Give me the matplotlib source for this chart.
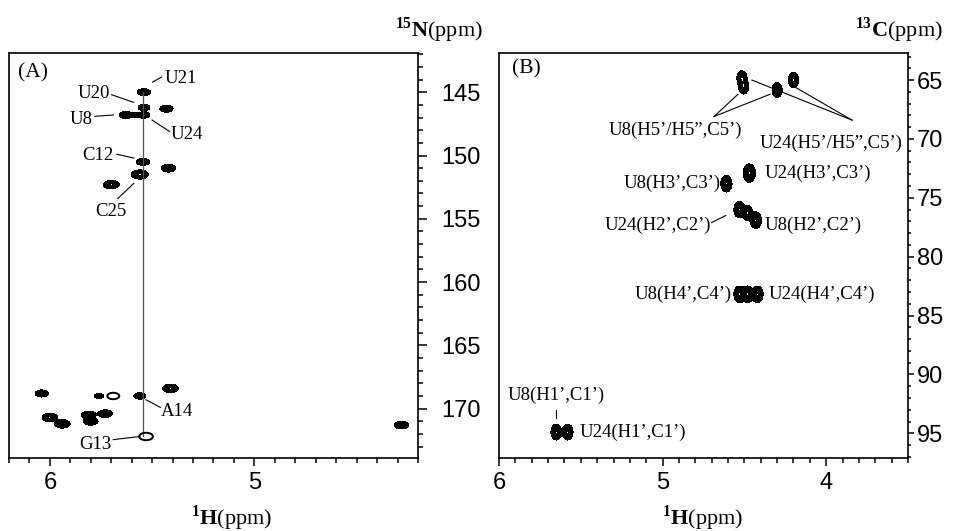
import numpy as np
import matplotlib.pyplot as plt
from matplotlib.ticker import MultipleLocator, FormatStrFormatter

plt.rcParams['font.family'] = 'Liberation Sans'
plt.rcParams['mathtext.fontset'] = 'custom'
plt.rcParams['mathtext.rm'] = 'Liberation Serif'
plt.rcParams['mathtext.bf'] = 'Liberation Serif:bold'

# panel A peaks (1H, 15N)
a_h = [5.54, 5.54, 5.43, 5.54, 5.585, 5.63, 5.545, 5.42, 5.56, 5.70,
       6.04, 5.76, 5.56, 5.41, 6.00, 5.94, 5.81, 5.80, 5.73, 4.28]
a_n = [145.0, 146.2, 146.3, 146.8, 146.8, 146.8, 150.5, 151.0, 151.5, 152.3,
       168.8, 169.0, 169.0, 168.4, 170.7, 171.2, 170.5, 171.0, 170.4, 171.3]
a_wid = [1.0, 0.9, 1.0, 0.9, 0.8, 1.0, 1.0, 1.1, 1.3, 1.2,
         1.0, 0.7, 0.9, 1.2, 1.2, 1.2, 1.1, 1.1, 1.1, 1.1]
a_open_h = [5.69, 5.53]
a_open_n = [169.0, 172.2]
a_line_h = 5.545
a_line_n = [145.0, 172.2]

a_labels = ['U21', 'U20', 'U8', 'U24', 'C12', 'C25', 'A14', 'G13']
a_lab_h = [5.36, 5.785, 5.846, 5.33, 5.766, 5.70, 5.38, 5.78]
a_lab_n = [143.9, 145.1, 147.15, 148.3, 150.0, 154.4, 170.2, 172.8]
a_lead = [((5.498, 144.2), (5.454, 143.8)),
          ((5.698, 145.2), (5.59, 145.8)),
          ((5.78, 146.9), (5.69, 146.8)),
          ((5.50, 147.2), (5.415, 148.1)),
          ((5.673, 149.9), (5.59, 150.2)),
          ((5.668, 153.4), (5.59, 152.2)),
          ((5.53, 169.3), (5.46, 169.9)),
          ((5.69, 172.45), (5.56, 172.2))]

# panel B peaks (1H, 13C)
b_h = [4.515, 4.505, 4.30, 4.20, 4.61, 4.47, 4.53, 4.48, 4.43,
       4.53, 4.48, 4.42, 5.65, 5.58]
b_c = [64.85, 65.55, 65.85, 65.0, 73.8, 72.9, 76.0, 76.3, 76.9,
       83.2, 83.2, 83.2, 94.9, 94.9]
b_wid = [0.9, 0.9, 0.9, 0.9, 1.0, 1.1, 1.0, 0.9, 1.0,
         1.0, 1.0, 1.0, 0.95, 0.95]

b_labels = ['U8(H5’/H5”,C5’)', 'U24(H5’/H5”,C5’)', 'U8(H3’,C3’)', 'U24(H3’,C3’)',
            'U24(H2’,C2’)', 'U8(H2’,C2’)', 'U8(H4’,C4’)', 'U24(H4’,C4’)',
            'U8(H1’,C1’)', 'U24(H1’,C1’)']
b_lab_h = [4.924, 3.97, 4.944, 4.374, 5.027, 4.374, 4.578, 4.354, 5.65, 5.505]
b_lab_c = [69.25, 70.35, 73.8, 72.9, 77.3, 77.3, 83.2, 83.2, 91.8, 94.9]
b_lab_ha = ['center', 'center', 'center', 'left', 'center', 'left', 'right', 'left',
            'center', 'left']
b_lead = [((4.686, 68.1), (4.539, 66.2)),
          ((4.686, 68.1), (4.343, 66.2)),
          ((3.842, 68.4), (4.454, 65.0)),
          ((3.842, 68.4), (4.19, 65.6)),
          ((4.70, 77.1), (4.614, 76.5)),
          ((5.65, 93.0), (5.65, 93.7))]


def peaks(ax, hs, vs, ws, sx, sy, xlim, ylim, open_ring=False):
    x = np.linspace(xlim[1], xlim[0], 1000)
    y = np.linspace(ylim[1], ylim[0], 800)
    X, Y = np.meshgrid(x, y)
    f = np.zeros_like(X)
    for h, v, w in zip(hs, vs, ws):
        f += np.exp(-0.5 * ((X - h) / (sx * w)) ** 2 - 0.5 * ((Y - v) / (sy * w)) ** 2)
    if open_ring:
        ax.contour(X, Y, f, levels=[0.15], colors='black', linewidths=1.4)
    else:
        ax.contourf(X, Y, f, levels=[0.1, 0.93], colors=['black'])


def style(ax, xlim, ylim, ylen, ypad):
    ax.set_xlim(*xlim)
    ax.set_ylim(*ylim)
    for s in ax.spines.values():
        s.set_linewidth(1.2)
    ax.yaxis.tick_right()
    ax.xaxis.set_major_locator(MultipleLocator(1))
    ax.xaxis.set_minor_locator(MultipleLocator(0.1))
    ax.yaxis.set_major_locator(MultipleLocator(5))
    ax.yaxis.set_minor_locator(MultipleLocator(1))
    ax.xaxis.set_major_formatter(FormatStrFormatter('%d'))
    ax.yaxis.set_major_formatter(FormatStrFormatter('%d'))
    ax.tick_params(which='both', direction='out', width=1.1, labelsize=17)
    ax.tick_params(axis='x', which='major', length=6, pad=4)
    ax.tick_params(axis='x', which='minor', length=3.5)
    ax.tick_params(axis='y', which='major', length=ylen, pad=ypad)
    ax.tick_params(axis='y', which='minor', length=ylen * 0.55)


fig = plt.figure(figsize=(9.58, 5.31), dpi=100)
W, H = 958, 531
axA = fig.add_axes([9 / W, 1 - 458 / H, 409 / W, 405 / H])
axB = fig.add_axes([499 / W, 1 - 458 / H, 409 / W, 405 / H])

xa, ya = (6.2, 4.2), (173.9, 141.9)
xb, yb = (6.0, 3.5), (97.1, 62.7)

serif = dict(family='Liberation Serif', fontsize=13.5)
panel = dict(family='Liberation Serif', fontsize=15.5)

# panel A
axA.plot([a_line_h, a_line_h], a_line_n, color='#555555', lw=0.9)
peaks(axA, a_h, a_n, a_wid, 0.015, 0.13, xa, ya)
peaks(axA, a_open_h, a_open_n, [1.0, 1.15], 0.015, 0.13, xa, ya, open_ring=True)
for lab, h, n in zip(a_labels, a_lab_h, a_lab_n):
    axA.text(h, n, lab, ha='center', va='center', **serif)
for (p, q) in a_lead:
    axA.plot([p[0], q[0]], [p[1], q[1]], color='black', lw=0.8)
axA.text(0.022, 0.95, '(A)', transform=axA.transAxes, ha='left', va='center', **panel)
style(axA, xa, ya, 6.5, 10)

# panel B
peaks(axB, b_h, b_c, b_wid, 0.016, 0.33, xb, yb)
for lab, h, c, ha in zip(b_labels, b_lab_h, b_lab_c, b_lab_ha):
    axB.text(h, c, lab, ha=ha, va='center', **serif)
for (p, q) in b_lead:
    axB.plot([p[0], q[0]], [p[1], q[1]], color='black', lw=0.8)
axB.text(0.032, 0.96, '(B)', transform=axB.transAxes, ha='left', va='center', **panel)
style(axB, xb, yb, 4, 2.5)

title = dict(family='Liberation Serif', fontsize=16, va='center')
fig.text(483 / W, 1 - 30 / H, r'$^{\mathbf{15}}\mathbf{N}$(ppm)', ha='right', **title)
fig.text(943 / W, 1 - 30 / H, r'$^{\mathbf{13}}\mathbf{C}$(ppm)', ha='right', **title)
fig.text(232 / W, 1 - 518 / H, r'$^{\mathbf{1}}\mathbf{H}$(ppm)', ha='center', **title)
fig.text(703 / W, 1 - 518 / H, r'$^{\mathbf{1}}\mathbf{H}$(ppm)', ha='center', **title)

fig.savefig('out.png', dpi=100)
